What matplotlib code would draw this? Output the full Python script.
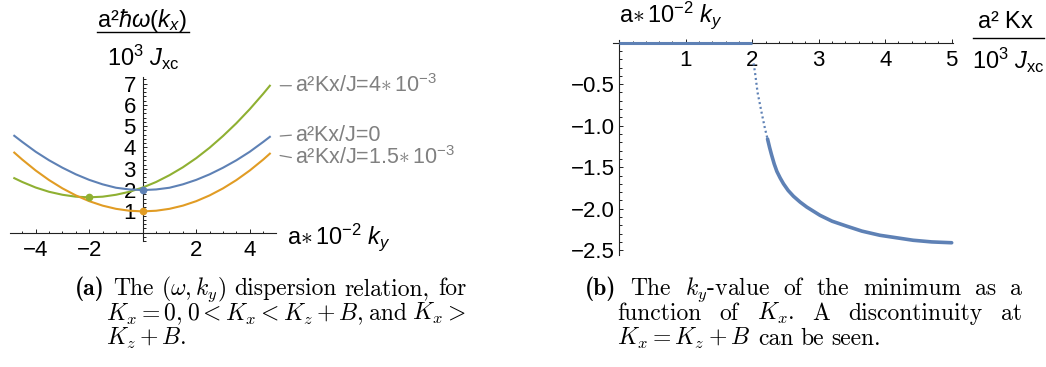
import matplotlib
matplotlib.use("Agg")
import matplotlib.pyplot as plt
from matplotlib.ticker import FixedLocator, MultipleLocator

plt.rcParams['font.family'] = ['Liberation Sans', 'DejaVu Sans']
plt.rcParams['mathtext.fontset'] = 'custom'
plt.rcParams['mathtext.rm'] = 'Liberation Sans'
plt.rcParams['mathtext.it'] = 'Liberation Sans:italic'
plt.rcParams['mathtext.bf'] = 'Liberation Sans:bold'

# ---------------- data ----------------
# (a) dispersion curves omega(k_y), three values of K_x
ky = [-4.8, -4.5, -4.0, -3.5, -3.0, -2.5, -2.0, -1.5, -1.0, -0.5, 0.0,
      0.5, 1.0, 1.5, 2.0, 2.5, 3.0, 3.5, 4.0, 4.5, 4.75]
omega_k0 = [4.55, 4.26, 3.80, 3.40, 3.05, 2.74, 2.48, 2.27, 2.11, 2.03, 2.00,
            2.03, 2.11, 2.27, 2.48, 2.74, 3.05, 3.40, 3.80, 4.26, 4.50]
omega_k15 = [3.76, 3.43, 2.92, 2.47, 2.08, 1.75, 1.48, 1.27, 1.12, 1.03, 1.00,
             1.03, 1.12, 1.27, 1.48, 1.75, 2.08, 2.47, 2.92, 3.43, 3.71]
omega_k4 = [2.56, 2.38, 2.12, 1.92, 1.78, 1.69, 1.66, 1.69, 1.78, 1.92, 2.12,
            2.38, 2.70, 3.07, 3.50, 3.99, 4.54, 5.14, 5.80, 6.52, 6.90]
series_labels = [r"a²Kx/J=4$\ast\,$10$^{-3}$", "a²Kx/J=0",
                 r"a²Kx/J=1.5$\ast\,$10$^{-3}$"]
min_ky = [0.0, 0.0, -2.0]          # K=0, K=1.5e-3, K=4e-3
min_omega = [2.00, 1.00, 1.66]
a_xticks = [-4, -2, 2, 4]
a_yticks = [1, 2, 3, 4, 5, 6, 7]

# (b) k_y of the minimum versus K_x
flat_kx = [0.0, 2.0]
flat_ky = [0.0, 0.0]
steep_kx = [2.02, 2.04, 2.08, 2.14, 2.19, 2.23]
steep_ky = [-0.25, -0.35, -0.60, -0.84, -1.03, -1.16]
tail_kx = [2.23, 2.26, 2.29, 2.33, 2.37, 2.42, 2.47, 2.54, 2.62, 2.72, 2.82,
           2.92, 3.02, 3.20, 3.42, 3.65, 3.92, 4.17, 4.42, 4.70, 5.00]
tail_ky = [-1.16, -1.26, -1.35, -1.46, -1.55, -1.63, -1.70, -1.78, -1.85, -1.92,
           -1.98, -2.03, -2.08, -2.15, -2.21, -2.27, -2.32, -2.35, -2.38, -2.40,
           -2.41]
b_xticks = [1, 2, 3, 4, 5]
b_yticks = [-0.5, -1.0, -1.5, -2.0, -2.5]

BLUE, ORANGE, GREEN = '#5E81B5', '#E19C24', '#8FB032'
GRAY = '#808080'
W, H = 1046, 367
TICK_FS = 16
LAB_FS = 17

fig = plt.figure(figsize=(W / 100, H / 100), dpi=100)


def rect(l, t, r, b):
    return [l / W, 1 - b / H, (r - l) / W, (b - t) / H]


def style_axes(ax):
    for s in ('top', 'right'):
        ax.spines[s].set_visible(False)
    ax.spines['left'].set_position(('data', 0))
    ax.spines['bottom'].set_position(('data', 0))
    for s in ('left', 'bottom'):
        ax.spines[s].set_linewidth(0.8)
        ax.spines[s].set_color('#222222')
    ax.tick_params(which='both', direction='in', color='#222222', width=0.7,
                   labelsize=TICK_FS, pad=5)
    ax.tick_params(which='major', length=3.2)
    ax.tick_params(which='minor', length=1.8)
    ax.patch.set_visible(False)


# ---------------- panel (a) ----------------
axa = fig.add_axes(rect(10, 77.2, 276, 241.2))
axa.set_xlim(-4.96, 4.98)
axa.set_ylim(-0.4, 7.3)
style_axes(axa)
axa.xaxis.set_major_locator(FixedLocator(a_xticks))
axa.set_xticklabels([f"{v}".replace('-', '\u2212') for v in a_xticks])
axa.xaxis.set_minor_locator(MultipleLocator(0.5))
axa.yaxis.set_major_locator(FixedLocator(a_yticks))
axa.set_yticklabels([str(v) for v in a_yticks])
axa.yaxis.set_minor_locator(MultipleLocator(0.2))

curves = [(omega_k4, GREEN, 0.0), (omega_k0, BLUE, 1.2), (omega_k15, ORANGE, -2.8)]
for (vals, col, dy), lab in zip(curves, series_labels):
    axa.plot(ky, vals, color=col, lw=1.5, clip_on=False, zorder=3)
    xe, ye = ky[-1], vals[-1]
    axa.annotate('', xy=(xe, ye), xytext=(15.5, dy), textcoords='offset points',
                 arrowprops=dict(arrowstyle='-', color=GRAY, lw=0.9,
                                 shrinkA=0, shrinkB=7.5), annotation_clip=False)
    axa.annotate(lab, xy=(xe, ye), xytext=(18, dy), textcoords='offset points',
                 va='center', ha='left', color=GRAY, fontsize=15.5,
                 annotation_clip=False)

for mx, my, col in zip(min_ky, min_omega, [BLUE, ORANGE, GREEN]):
    axa.plot([mx], [my], 'o', color=col, ms=4.5, clip_on=False, zorder=4)

fig.text(287 / W, 1 - 237 / H, r"a$\ast\,$10$^{-2}$ $k_y$", fontsize=LAB_FS,
         va='center', ha='left')
fig.text(142 / W, 1 - 20 / H, r"a²$\hbar\omega(k_x)$", fontsize=LAB_FS,
         va='center', ha='center')
fig.add_artist(plt.Line2D([96.7 / W, 189 / W], [1 - 32 / H, 1 - 32 / H],
                          color='black', lw=1.0))
fig.text(143 / W, 1 - 57 / H, r"10$^3$ $J_{\mathrm{xc}}$", fontsize=LAB_FS,
         va='center', ha='center')

# ---------------- panel (b) ----------------
axb = fig.add_axes(rect(613, 40.2, 953, 255.2))
axb.set_xlim(-0.095, 5.02)
axb.set_ylim(-2.56, 0.03)
style_axes(axb)
axb.xaxis.set_major_locator(FixedLocator(b_xticks))
axb.set_xticklabels([str(v) for v in b_xticks])
axb.xaxis.set_minor_locator(MultipleLocator(0.2))
axb.yaxis.set_major_locator(FixedLocator(b_yticks))
axb.set_yticklabels([f"{v:.1f}".replace('-', '\u2212') for v in b_yticks])
axb.yaxis.set_minor_locator(MultipleLocator(0.1))
axb.tick_params(axis='y', pad=3)

axb.plot(flat_kx, flat_ky, color=BLUE, lw=2.2, clip_on=False, zorder=3,
         solid_capstyle='butt')
axb.plot(steep_kx, steep_ky, color=BLUE, lw=1.6, clip_on=False, zorder=3,
         linestyle=(0, (0.9, 1.3)))
axb.plot(tail_kx, tail_ky, color=BLUE, lw=2.6, clip_on=False, zorder=3,
         solid_capstyle='round', solid_joinstyle='round')

fig.text(619 / W, 1 - 15 / H, r"a$\ast\,$10$^{-2}$ $k_y$", fontsize=LAB_FS,
         va='center', ha='left')
fig.text(1005 / W, 1 - 22 / H, r"a²$\ $Kx", fontsize=LAB_FS, va='center',
         ha='center')
fig.add_artist(plt.Line2D([972.7 / W, 1044 / W], [1 - 38.3 / H, 1 - 38.3 / H],
                          color='black', lw=1.0))
fig.text(1008 / W, 1 - 60 / H, r"10$^3$ $J_{\mathrm{xc}}$", fontsize=LAB_FS,
         va='center', ha='center')

# ---------------- captions ----------------
CAP_FS = 17
renderer = fig.canvas.get_renderer()


def caption_line(tokens, x0, x1, y, justify=True):
    texts = []
    for s, fam in tokens:
        t = fig.text(0, 1 - y / H, s, fontfamily=fam, fontsize=CAP_FS,
                     math_fontfamily='cm', va='baseline', ha='left')
        texts.append(t)
    widths = [t.get_window_extent(renderer).width for t in texts]
    if justify and len(texts) > 1:
        gap = (x1 - x0 - sum(widths)) / (len(texts) - 1)
    else:
        gap = 7.5
    x = x0
    for t, w in zip(texts, widths):
        t.set_x(x / W)
        x += w + gap


R, B = 'cmr10', 'cmb10'
caption_line([("(a)", B), ("The", R), (r"$(\omega,k_y)$", R), ("dispersion", R),
              ("relation,", R), ("for", R)], 75, 466, 295)
caption_line([(r"$K_x=0$,", R), (r"$0<K_x<K_z+B$,", R), ("and", R),
              (r"$K_x>$", R)], 106, 466, 320)
caption_line([(r"$K_z+B$.", R)], 106, 466, 345, justify=False)

caption_line([("(b)", B), ("The", R), (r"$k_y$-value", R), ("of", R), ("the", R),
              ("minimum", R), ("as", R), ("a", R)], 585, 1022, 295)
caption_line([("function", R), ("of", R), (r"$K_x$.", R), ("A", R),
              ("discontinuity", R), ("at", R)], 617, 1022, 320)
caption_line([(r"$K_x=K_z+B$", R), ("can", R), ("be", R), ("seen.", R)],
             617, 1022, 345, justify=False)

fig.savefig("out.png", dpi=100)
